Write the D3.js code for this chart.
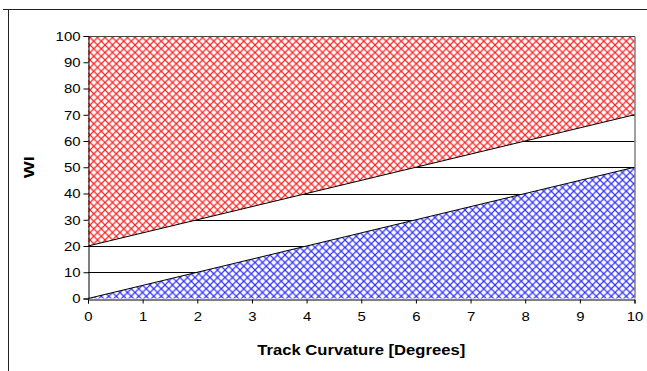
<!DOCTYPE html>
<html>
<head>
<meta charset="utf-8">
<script src="https://cdn.jsdelivr.net/npm/d3@7"></script>
<style>
body{margin:0;background:#fff}
text{font-family:"Liberation Sans",Arial,sans-serif;fill:#000}
</style>
</head>
<body>
<svg width="647" height="371"></svg>
<script>
// curvature (degrees)
var curvature=[0,10]
// upper limit line (top of white band) and lower limit line
var upperLine=[20,70]
var lowerLine=[0,50]
var yMax=100
var xTicks=[0,1,2,3,4,5,6,7,8,9,10]
var yTicks=[0,10,20,30,40,50,60,70,80,90,100]

var svg=d3.select("svg")
var margins={top:36,bottom:72.5,left:88,right:12.5}
var boxWidth=647-margins.left-margins.right
var boxHeight=371-margins.top-margins.bottom

var xScale=d3.scaleLinear().domain([0,10]).range([margins.left,margins.left+boxWidth])
var yScale=d3.scaleLinear().domain([0,yMax]).range([margins.top+boxHeight,margins.top])

// hatch patterns
var defs=svg.append("defs")
var makePattern=function(id,color)
{
  var p=defs.append("pattern")
    .attr("id",id)
    .attr("patternUnits","userSpaceOnUse")
    .attr("width",7.5).attr("height",7.5)
  p.append("rect").attr("width",7.5).attr("height",7.5).attr("fill","#fff")
  p.append("path")
    .attr("d","M-1,-1L8.5,8.5M8.5,-1L-1,8.5")
    .attr("stroke",color).attr("stroke-width",1.2).attr("fill","none")
}
makePattern("redHatch","#ff2020")
makePattern("blueHatch","#3030ff")

// outer frame
svg.append("path")
  .attr("d","M3,9.5H647M8.5,9.5V371")
  .attr("stroke","#222").attr("fill","none")

// gridlines
svg.append("g").selectAll("line")
  .data(yTicks.filter(function(d){return d>0 && d<yMax}))
  .enter().append("line")
  .attr("x1",xScale(0)).attr("x2",xScale(10))
  .attr("y1",function(d){return Math.round(yScale(d))+0.5})
  .attr("y2",function(d){return Math.round(yScale(d))+0.5})
  .attr("stroke","#000")

// areas
var upperArea=d3.area()
  .x(function(d,i){return xScale(curvature[i])})
  .y0(function(d){return yScale(d)})
  .y1(yScale(yMax))
var lowerArea=d3.area()
  .x(function(d,i){return xScale(curvature[i])})
  .y0(yScale(0))
  .y1(function(d){return yScale(d)})
var line=d3.line()
  .x(function(d,i){return xScale(curvature[i])})
  .y(function(d){return yScale(d)})

svg.append("path").datum(upperLine).attr("d",upperArea).attr("fill","url(#redHatch)")
svg.append("path").datum(lowerLine).attr("d",lowerArea).attr("fill","url(#blueHatch)")
svg.append("path").datum(upperLine).attr("d",line).attr("stroke","#000").attr("fill","none")
svg.append("path").datum(lowerLine).attr("d",line).attr("stroke","#000").attr("fill","none")

// plot border top/right
svg.append("path")
  .attr("d","M"+xScale(0)+","+(yScale(yMax)+0.5)+"H"+(xScale(10)+0.5)+"V"+yScale(0))
  .attr("stroke","#444").attr("fill","none")

// axes
var xAxis=d3.axisBottom(xScale).tickValues(xTicks).tickSize(4).tickPadding(8)
var yAxis=d3.axisLeft(yScale).tickValues(yTicks).tickSize(5).tickPadding(3)

var gx=svg.append("g")
  .attr("transform","translate(0,"+(Math.round(yScale(0))+0.5)+")")
  .call(xAxis)
var gy=svg.append("g")
  .attr("transform","translate("+(Math.round(xScale(0))+0.5)+",0)")
  .call(yAxis)
svg.selectAll(".domain").attr("stroke","#000")
svg.selectAll(".tick line").attr("stroke","#000")
svg.selectAll(".tick text")
  .attr("font-size",13.5)
  .attr("font-family","Liberation Sans,Arial,sans-serif")
  .attr("fill","#000")
  .attr("textLength",function(d){return String(d).length*8.3})
  .attr("lengthAdjust","spacingAndGlyphs")

svg.append("text")
  .attr("x",(xScale(0)+xScale(10))/2)
  .attr("y",355)
  .attr("text-anchor","middle")
  .attr("font-size",15)
  .attr("font-weight","bold")
  .attr("textLength",208)
  .attr("lengthAdjust","spacingAndGlyphs")
  .text("Track Curvature [Degrees]")

svg.append("text")
  .attr("transform","translate(34,"+yScale(yMax/2)+") rotate(-90)")
  .attr("text-anchor","middle")
  .attr("font-size",14)
  .attr("font-weight","bold")
  .attr("textLength",22)
  .attr("lengthAdjust","spacingAndGlyphs")
  .text("WI")
</script>
</body>
</html>
